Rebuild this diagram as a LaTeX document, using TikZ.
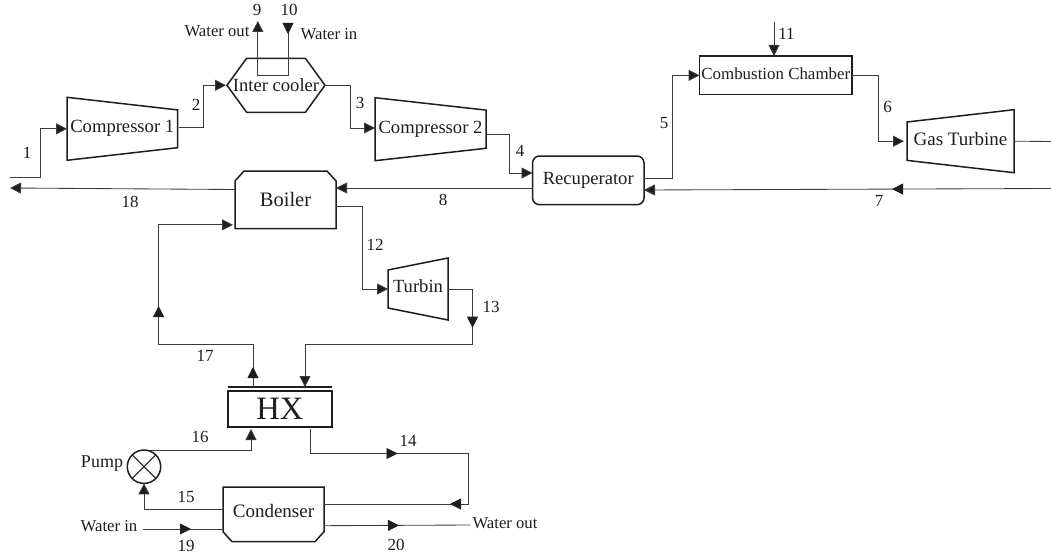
\documentclass[tikz,border=0pt]{standalone}
\usepackage{fontspec}
\setmainfont{Liberation Serif}
\usetikzlibrary{arrows.meta,decorations.markings}
\definecolor{ink}{HTML}{1E1E1E}
\definecolor{pipe}{HTML}{3C3C3C}
\newcommand{\fs}[1]{\fontsize{#1}{#1}\selectfont}
\tikzset{
  flow/.style={draw=pipe,line width=0.85pt},
  tipped/.style={flow,-{Triangle[length=11pt,width=11pt,fill=ink]}},
  midtip/.style={postaction={decorate,decoration={markings,mark=at position #1 with {\arrow[ink]{Triangle[length=11pt,width=11pt,fill=ink]}}}}},
  outline/.style={draw=ink,line width=1.5pt,line join=miter},
  unit/.style={inner sep=0pt,outer sep=0pt,text=ink,font=\fs{18.6}},
  boxunit/.style={unit,rectangle,outline},
  lab/.style={inner sep=0pt,text=ink,font=\fs{17}},
  side/.style={inner sep=0pt,text=ink,font=\fs{16.7}}
}
% trapezoid narrowing to the right / to the left, drawn on a named node
\newcommand{\narrowright}[2]{\draw[outline] (#1.north west) -- ([yshift=-#2pt]#1.north east) -- ([yshift=#2pt]#1.south east) -- (#1.south west) -- cycle;}
\newcommand{\narrowleft}[2]{\draw[outline] ([yshift=-#2pt]#1.north west) -- (#1.north east) -- (#1.south east) -- ([yshift=#2pt]#1.south west) -- cycle;}
\begin{document}
\begin{tikzpicture}[x=1pt,y=-1pt]
\useasboundingbox[fill=white] (0,0) rectangle (1051,559);

% units
\node[unit,minimum width=110.5pt,minimum height=63pt] (c1) at (122.25,128.8) {Compressor 1};
\narrowright{c1}{12.6}
\node[unit,minimum width=111pt,minimum height=63pt] (c2) at (430.5,129.2) {Compressor 2};
\narrowright{c2}{12.4}
\node[unit,minimum width=98pt,minimum height=54pt] (ic) at (276,85.3) {Inter cooler};
\draw[outline] (ic.west) -- ([xshift=19.6pt]ic.north west) -- ([xshift=-19.6pt]ic.north east) -- (ic.east) -- ([xshift=-19.6pt]ic.south east) -- ([xshift=19.6pt]ic.south west) -- cycle;
\node[unit,font=\fs{20.5},minimum width=101pt,minimum height=57.7pt] (boiler) at (285.5,199.85) {Boiler};
\draw[outline] ([yshift=-10pt]boiler.north west) -- ([xshift=9pt]boiler.north west) -- ([xshift=-9pt]boiler.north east) -- ([yshift=-10pt]boiler.north east) -- (boiler.south east) -- (boiler.south west) -- cycle;
\node[boxunit,rounded corners=7pt,minimum width=111.5pt,minimum height=48.7pt] (recup) at (588.25,180.35) {Recuperator};
\node[boxunit,font=\fs{16.9},text height=12pt,text depth=4pt,minimum width=152.4pt,minimum height=38.7pt] (cc) at (775.8,75.35) {Combustion Chamber};
\node[unit,font=\fs{19},text height=13pt,text depth=4pt,minimum width=107pt,minimum height=63pt] (gt) at (960.5,141.2) {Gas Turbine};
\narrowleft{gt}{12.3}
\node[unit,text height=13pt,text depth=6pt,minimum width=60pt,minimum height=62pt] (tur) at (418,289) {Turbin};
\narrowleft{tur}{12}
\node[boxunit,font=\fs{32.6},minimum width=104pt,minimum height=36pt] (hx) at (280,409) {HX};
\draw[outline] ([yshift=4pt]hx.north west) -- ([yshift=4pt]hx.north east);
\node[unit,font=\fs{19},text height=13pt,text depth=6pt,minimum width=101pt,minimum height=54.7pt] (cond) at (273.5,514.35) {Condenser};
\draw[outline] (cond.north west) -- (cond.north east) -- ([yshift=10pt]cond.south east) -- ([xshift=-9pt]cond.south east) -- ([xshift=9pt]cond.south west) -- ([yshift=10pt]cond.south west) -- cycle;
\node[circle,outline,inner sep=0pt,outer sep=0pt,minimum size=33.4pt] (pump) at (144,466.7) {};
\draw[outline,line width=1.1pt] (pump.north west) -- (pump.south east) (pump.north east) -- (pump.south west);

% free ends
\coordinate (in1) at (10,177);
\coordinate (out18) at (10,188);
\coordinate (in7) at (1051,188.5);
\coordinate (outgt) at (1051,141.5);
\coordinate (in11) at (774,22);
\coordinate (w10) at (288,23);
\coordinate (w9) at (257.8,21);
\coordinate (u10) at (288,75);
\coordinate (u9) at (257.8,75);
\coordinate (c13) at (472.5,344);
\coordinate (c17) at (158.6,344);
\coordinate (c14) at (468,453.5);
\coordinate (in19) at (143,529);
\coordinate (out20) at (470,525);

% connectors
\draw[tipped] (in1) -- ++(30,0) |- (c1.west);
\draw[tipped] ([yshift=1.8pt,xshift=1pt]c1.east) -- ++(25,0) |- ([xshift=-1pt]ic.west);
\draw[tipped] (ic.east) -- ++(25,0) |- ([yshift=1.2pt]c2.west);
\draw[tipped] ([yshift=-5.1pt,xshift=1pt]c2.east) -- ++(22,0) |- ([yshift=7.35pt]recup.west);
\draw[tipped] ([yshift=1.85pt]recup.east) -- ++(28,0) |- (cc.west);
\draw[tipped] (cc.east) -- ++(26,0) |- ([xshift=-3pt]gt.west);
\draw[flow] ([xshift=1pt]gt.east) -- (outgt);
\draw[tipped,midtip=159pt] (in7) -- ([yshift=-9.65pt]recup.east);
\draw[tipped] ([yshift=-7.65pt]recup.west) -- ([yshift=11.85pt]boiler.east);
\draw[tipped] ([yshift=10.35pt]boiler.west) -- (out18);
\draw[tipped] (in11) -- (cc.north -| in11);
\draw[tipped,midtip=11pt] (w10) -- (u10) -- (u9) -- (w9);
\draw[tipped] ([yshift=-6.15pt]boiler.east) -- ++(26,0) |- (tur.west);
\draw[tipped,midtip=63.2pt] (tur.east) -- ++(24.5,0) |- (c13) -| ([xshift=25pt,yshift=4pt]hx.north);
\draw[tipped,midtip=20pt,midtip=175.4pt] ([xshift=-27pt,yshift=4pt]hx.north) |- (c17) |- ([xshift=-2pt,yshift=-25pt]boiler.west);
\draw[tipped] ([xshift=6pt]pump.north) -| ([xshift=-29pt,yshift=-2pt]hx.south);
\draw[flow,midtip=112pt,midtip=251pt] ([xshift=30pt,yshift=-2pt]hx.south) |- (c14) |- ([yshift=10.35pt]cond.east);
\draw[tipped] ([yshift=5.35pt]cond.west) -| (pump.south);
\draw[flow,midtip=48pt] (in19) -- ([yshift=-14.65pt]cond.west);
\draw[flow,midtip=75pt] ([yshift=-11.35pt]cond.east) -- (out20);

% stream numbers
\node[lab] (l1) at (27,153) {1};
\node[lab] (l2) at (196,105) {2};
\node[lab] (l3) at (360,103) {3};
\node[lab] (l4) at (520,151) {4};
\node[lab] (l5) at (664,123) {5};
\node[lab] (l6) at (887.5,107) {6};
\node[lab] (l7) at (879,201) {7};
\node[lab] (l8) at (443,200) {8};
\node[lab] (l9) at (257,10) {9};
\node[lab] (l10) at (289,10) {10};
\node[lab] (l11) at (786.5,34) {11};
\node[lab] (l12) at (375,245) {12};
\node[lab] (l13) at (491,307) {13};
\node[lab] (l14) at (408,441) {14};
\node[lab] (l15) at (186,497) {15};
\node[lab] (l16) at (200,437) {16};
\node[lab] (l17) at (205,356) {17};
\node[lab] (l18) at (130,202) {18};
\node[lab] (l19) at (186,546) {19};
\node[lab] (l20) at (396,545) {20};

% side texts
\node[side] (wo1) at (217,31) {Water out};
\node[side] (wi1) at (329,34) {Water in};
\node[side] (wi2) at (109,526) {Water in};
\node[side] (wo2) at (505,523) {Water out};
\node[side,font=\fs{18}] (plab) at (102,464) {Pump};
\end{tikzpicture}
\end{document}
